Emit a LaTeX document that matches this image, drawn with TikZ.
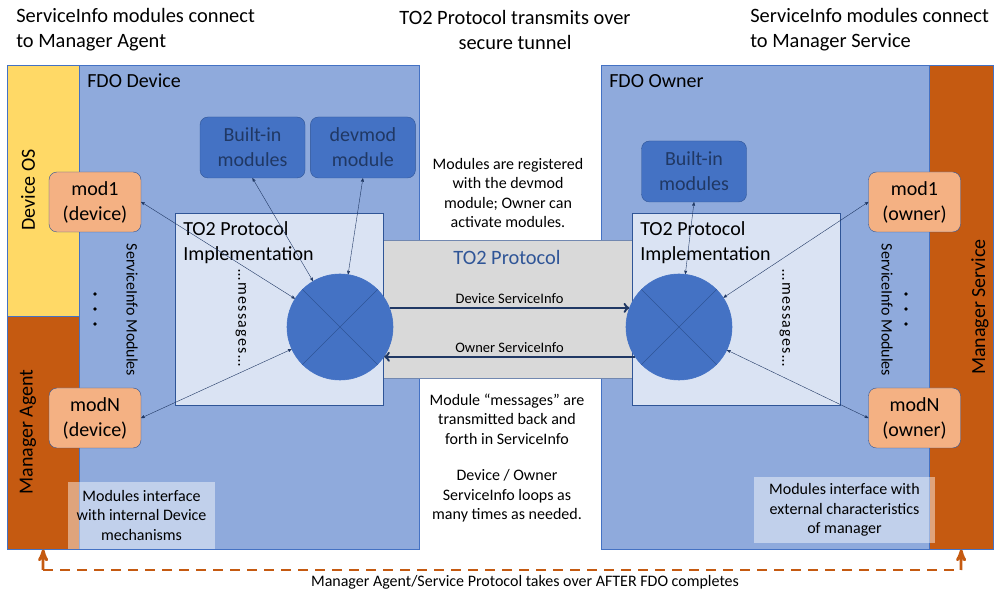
\documentclass[tikz,border=0pt]{standalone}
\usepackage{fontspec}
\setmainfont{Carlito}
\usepackage{xcolor}
\usepackage{tikz}
\usetikzlibrary{arrows}
\usetikzlibrary{positioning}

\definecolor{fdoblue}{HTML}{8FAADC}
\definecolor{modblue}{HTML}{4472C4}
\definecolor{darkblue}{HTML}{2F5597}
\definecolor{navy}{HTML}{203864}
\definecolor{implblue}{HTML}{DAE3F3}
\definecolor{osyellow}{HTML}{FFD966}
\definecolor{mgrorange}{HTML}{C55A11}
\definecolor{modorange}{HTML}{F4B183}
\definecolor{tunnelgray}{HTML}{D9D9D9}

\newcommand{\ttlsize}{\fontsize{20.4}{25}\selectfont}
\newcommand{\boxsize}{\fontsize{20}{25}\selectfont}
\newcommand{\notesize}{\fontsize{16}{19.5}\selectfont}
\newcommand{\lblsize}{\fontsize{14.5}{18}\selectfont}

\begin{document}
\begin{tikzpicture}[x=1pt,y=-1pt,>=stealth',semithick,node distance=5pt]
	\tikzstyle{area}=[draw=modblue, thin, inner sep=0, anchor=north west]
	\tikzstyle{blt}=[draw=darkblue, thin, fill=modblue, rounded corners=8pt, minimum width=105, minimum height=61, align=center, text=navy, font=\boxsize, inner sep=0]
	\tikzstyle{mod}=[draw=darkblue, thin, fill=modorange, rounded corners=8pt, minimum width=92, minimum height=60, align=center, font=\boxsize, inner sep=0]
	\tikzstyle{impl}=[area, draw=darkblue, fill=implblue, minimum width=208, minimum height=192]
	\tikzstyle{hub}=[circle, fill=modblue, draw=modblue, minimum size=106, inner sep=0]
	\tikzstyle{lnk}=[<->, thin, draw=navy]
	\tikzstyle{svc}=[-to, line width=2.4pt, draw=navy]
	\tikzstyle{note}=[fill=white, fill opacity=0.45, text opacity=1, align=center, font=\notesize, inner sep=0]
	\tikzstyle{mgr}=[draw=mgrorange, line width=2.8pt]
	\useasboundingbox (0,0) rectangle (994,593);

	% titles
	\node[anchor=west, align=left, font=\ttlsize, inner sep=0] (T1) at (16,30) {ServiceInfo modules connect\\to Manager Agent};
	\node[align=center, font=\ttlsize, inner sep=0] (T2) at (515,30) {TO2 Protocol transmits over\\secure tunnel};
	\node[anchor=west, align=left, font=\ttlsize, inner sep=0] (T3) at (750,30) {ServiceInfo modules connect\\to Manager Service};

	% device side
	\node[area, fill=osyellow, minimum width=72, minimum height=251] (OS) at (7,65) {};
	\node[area, fill=mgrorange, minimum width=72, minimum height=233] (MA) at (7,316) {};
	\node[area, fill=fdoblue, minimum width=340, minimum height=484] (FD) at (79,65) {};
	% owner side
	\node[area, fill=fdoblue, minimum width=328, minimum height=484] (FO) at (601,65) {};
	\node[area, fill=mgrorange, minimum width=64, minimum height=484] (MS) at (929,65) {};

	\node[anchor=base west, font=\boxsize, inner sep=0] at (87,88) {FDO Device};
	\node[anchor=base west, font=\boxsize, inner sep=0] at (609,88) {FDO Owner};
	\node[rotate=90, font=\boxsize] at (28,190) {Device OS};
	\node[rotate=90, font=\boxsize] at (28,432) {Manager Agent};
	\node[rotate=90, font=\boxsize] at (980,307) {Manager Service};

	% tunnel
	\node[area, draw=fdoblue!80!black, fill=tunnelgray, minimum width=252, minimum height=138] (TB) at (381,240) {};
	\node[text=darkblue, font=\ttlsize] at (507,257) {TO2 Protocol};

	\node[impl] (IL) at (175,213) {};
	\node[impl] (IR) at (632,213) {};
	\node[below right=8pt and 8pt of IL.north west, align=left, font=\boxsize, inner sep=0] {TO2 Protocol\\Implementation};
	\node[below right=8pt and 8pt of IR.north west, align=left, font=\boxsize, inner sep=0] {TO2 Protocol\\Implementation};

	\node[hub] (CL) at (340,327) {};
	\node[hub] (CR) at (679,327) {};
	\draw[darkblue, thin] (CL.45) -- (CL.225) (CL.135) -- (CL.315);
	\draw[darkblue, thin] (CR.45) -- (CR.225) (CR.135) -- (CR.315);

	\node[rotate=-90, font=\notesize] at (241,318) {\addfontfeature{LetterSpace=8}…messages…};
	\node[rotate=-90, font=\notesize] at (785,318) {\addfontfeature{LetterSpace=8}…messages…};
	\node[rotate=-90, font=\notesize] at (132,310) {ServiceInfo Modules};
	\node[rotate=-90, font=\notesize] at (887,310) {ServiceInfo Modules};
	\foreach \y in {294,309,324} {
		\fill (95,\y) circle (1.8pt);
		\fill (906,\y) circle (1.8pt);
	}

	% modules
	\node[blt] (B) at (252.5,147.5) {Built-in\\modules};
	\node[blt] (D) [right=of B] {devmod\\module};
	\node[blt] (B2) at (694,171.5) {Built-in\\modules};
	\node[mod] (M1) at (95,202) {mod1\\(device)};
	\node[mod] (MN) at (95,418) {modN\\(device)};
	\node[mod] (M1o) at (914.5,202) {mod1\\(owner)};
	\node[mod] (MNo) at (914.5,418) {modN\\(owner)};

	\path
		(M1.east) edge[lnk] (CL)
		(MN.east) edge[lnk] (CL)
		(B.south) edge[lnk] (CL)
		(D.south) edge[lnk] (CL)
		(B2.south) edge[lnk] (CR)
		(M1o.west) edge[lnk] (CR)
		(MNo.west) edge[lnk] (CR);

	\draw[svc] (CL.21) -- node[above, font=\lblsize] {Device ServiceInfo} (CR.159);
	\draw[svc] (CR.214) -- node[above, font=\lblsize] {Owner ServiceInfo} (CL.-34);

	% middle notes
	\node[align=center, font=\notesize] at (508,193) {Modules are registered\\with the devmod\\module; Owner can\\activate modules.};
	\node[align=center, font=\notesize] at (507,419) {Module “messages” are\\transmitted back and\\forth in ServiceInfo};
	\node[align=center, font=\notesize] at (507,496) {Device / Owner\\ServiceInfo loops as\\many times as needed.};

	\node[note, minimum width=147, minimum height=67] (NL) at (141.5,515.5) {Modules interface\\with internal Device\\mechanisms};
	\node[note, minimum width=181, minimum height=66] (NR) at (844.5,510) {Modules interface with\\external characteristics\\of manager};

	% after FDO
	\coordinate (AL) at (43,570);
	\coordinate (AR) at (961,570);
	\draw[mgr, dash pattern=on 10pt off 7pt] (AL) -- (AR);
	\draw[mgr, ->] (AL) -- (MA.south);
	\draw[mgr, ->] (AR) -- (MS.south);
	\node[font=\notesize] at (525,582) {Manager Agent/Service Protocol takes over AFTER FDO completes};
\end{tikzpicture}
\end{document}
